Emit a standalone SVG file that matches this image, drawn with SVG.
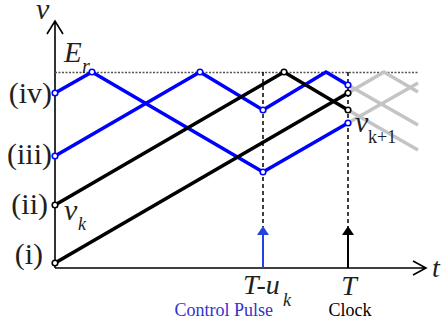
<svg xmlns="http://www.w3.org/2000/svg" width="443" height="325" viewBox="0 0 443 325">
<style>
.ax{stroke:#000;stroke-width:1.6;fill:none}
.blue{stroke:#0000ff;stroke-width:3.6;fill:none;stroke-linejoin:miter}
.blk{stroke:#000;stroke-width:3.6;fill:none}
.gry{stroke:#c4c4c4;stroke-width:3.6;fill:none}
.dash{stroke:#000;stroke-width:1.5;stroke-dasharray:4,3;fill:none}
.dot{stroke:#555;stroke-width:1.5;stroke-dasharray:2,1.5;fill:none}
.cb{fill:#fff;stroke:#0000ff;stroke-width:1.6}
.ck{fill:#fff;stroke:#000;stroke-width:1.6}
.lab{font-family:"Liberation Serif","Times New Roman",serif;font-size:30px;fill:#231f20}
.it{font-family:"Liberation Serif","Times New Roman",serif;font-style:italic;fill:#231f20}
.sm{font-family:"Liberation Serif","Times New Roman",serif;font-size:18px}
</style>
<g id="axes">
<path class="ax" d="M55,268 V21 M47,34 L55,21 L63,34"/>
<path class="ax" d="M55,268 H426 M413,261 L426,268 L413,275"/>
<text class="it" x="36" y="19" font-size="30">v</text>
<text class="it" x="432" y="277" font-size="28">t</text>
</g>
<g id="reference-line">
<path class="dot" d="M55,72.5 H418"/>
<text class="it" x="64" y="62" font-size="29">E</text>
<text class="it" x="82" y="73" font-size="20">r</text>
</g>
<g id="guides">
<path class="dash" d="M263,72 V227"/>
<path class="dash" d="M348,72 V227"/>
</g>
<g id="ghost-lines">
<polyline class="gry" points="348,93 384,72 418,92"/>
<polyline class="gry" points="348,85 418,125"/>
<polyline class="gry" points="348,123 418,83"/>
<polyline class="gry" points="348,110 418,150"/>
</g>
<g id="connectors">
<polyline class="blue" points="55,93 92,72 263,172 348,123"/>
<polyline class="blue" points="55,156 200,72 263,110 326,72 348,85"/>
<polyline class="blk" points="55,205 284,72 348,110"/>
<polyline class="blk" points="55,263 348,93"/>
</g>
<g id="points">
<circle class="cb" cx="55" cy="93" r="2.8"/>
<circle class="cb" cx="92" cy="72" r="2.8"/>
<circle class="cb" cx="263" cy="172" r="2.8"/>
<circle class="cb" cx="348" cy="123" r="2.8"/>
<circle class="cb" cx="55" cy="156" r="2.8"/>
<circle class="cb" cx="200" cy="72" r="2.8"/>
<circle class="cb" cx="263" cy="110" r="2.8"/>
<circle class="cb" cx="348" cy="85" r="2.8"/>
<circle class="ck" cx="55" cy="205" r="2.8"/>
<circle class="ck" cx="284" cy="72" r="2.8"/>
<circle class="ck" cx="348" cy="110" r="2.8"/>
<circle class="ck" cx="55" cy="263" r="2.8"/>
<circle class="ck" cx="348" cy="93" r="2.8"/>
</g>
<g id="start-labels">
<text class="lab" x="52" y="103" text-anchor="end">(iv)</text>
<text class="lab" x="52" y="164" text-anchor="end">(iii)</text>
<text class="lab" x="48" y="214" text-anchor="end">(ii)</text>
<text class="lab" x="43" y="264" text-anchor="end">(i)</text>
</g>
<g id="vk">
<text class="it" x="64" y="220" font-size="30">v</text>
<text class="it" x="78" y="230" font-size="18">k</text>
</g>
<g id="vk1">
<text class="it" x="355" y="132" font-size="30">v</text>
<text class="sm" x="368" y="143" fill="#231f20">k+1</text>
</g>
<g id="control-pulse">
<path d="M263,268 V234" stroke="#2244dd" stroke-width="2"/>
<polygon points="257,235 263,226 269,235" fill="#2244dd"/>
<text class="it" x="243" y="294" font-size="28" fill="#000">T-u</text>
<text class="it" x="283" y="306" font-size="18" fill="#000">k</text>
<text class="sm" x="273" y="316" text-anchor="end" fill="#3333cc">Control Pulse</text>
</g>
<g id="clock">
<path d="M348,268 V234" stroke="#000" stroke-width="2"/>
<polygon points="342,235 348,226 354,235" fill="#000"/>
<text class="it" x="349" y="295" font-size="28" text-anchor="middle" fill="#000">T</text>
<text class="sm" x="350" y="316" text-anchor="middle" fill="#000">Clock</text>
</g>
</svg>
